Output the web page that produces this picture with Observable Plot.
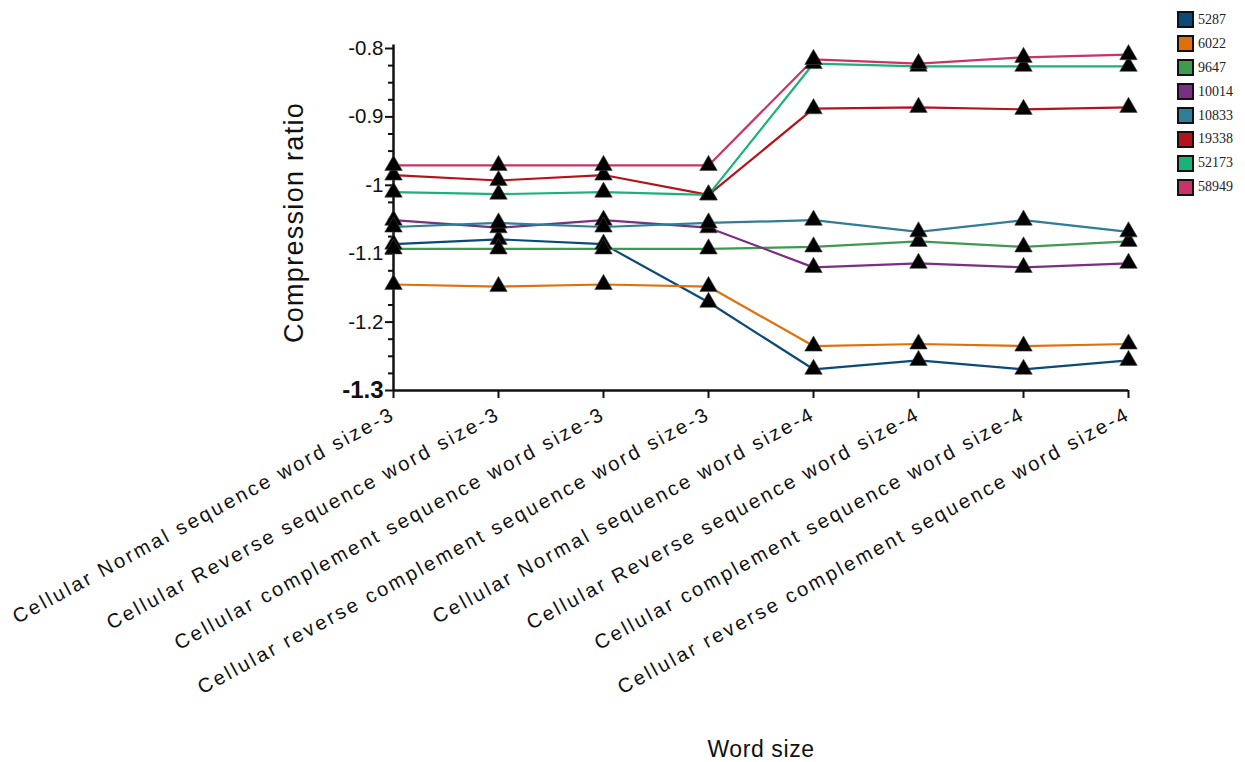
<!DOCTYPE html>
<html><head><meta charset="utf-8">
<script src="https://cdn.jsdelivr.net/npm/d3@7"></script>
<script src="https://cdn.jsdelivr.net/npm/@observablehq/plot@0.6"></script>
<style>
body{margin:0;background:#fff;}
#wrap{position:relative;width:1245px;height:762px;overflow:hidden;}
#legend{position:absolute;left:1177px;top:8px;font-family:"Liberation Serif",serif;font-size:14px;color:#222;}
.item{display:flex;align-items:center;height:23.9px;}
.sw{width:13px;height:13px;border:2px solid #111;margin-right:4px;box-sizing:content-box;}
</style></head>
<body><div id="wrap"><div id="chart"></div><div id="legend"></div></div>
<script>
const categories = [
  "Cellular Normal sequence word size-3",
  "Cellular Reverse sequence word size-3",
  "Cellular complement sequence word size-3",
  "Cellular reverse complement sequence word size-3",
  "Cellular Normal sequence word size-4",
  "Cellular Reverse sequence word size-4",
  "Cellular complement sequence word size-4",
  "Cellular reverse complement sequence word size-4"
];
const seriesNames = ["5287","6022","9647","10014","10833","19338","52173","58949"];
const seriesColors = ["#0b4a78","#e0700a","#3d9a4e","#7b2f83","#2f7d96","#b5121b","#1ab27a","#c73468"];
const v5287  = [-1.086,-1.079,-1.086,-1.171,-1.269,-1.256,-1.269,-1.256];
const v6022  = [-1.145,-1.148,-1.145,-1.148,-1.235,-1.232,-1.235,-1.232];
const v9647  = [-1.093,-1.093,-1.093,-1.093,-1.090,-1.082,-1.090,-1.082];
const v10014 = [-1.051,-1.062,-1.051,-1.062,-1.120,-1.114,-1.120,-1.114];
const v10833 = [-1.061,-1.055,-1.061,-1.055,-1.051,-1.068,-1.051,-1.068];
const v19338 = [-0.985,-0.993,-0.985,-1.014,-0.888,-0.886,-0.889,-0.886];
const v52173 = [-1.010,-1.013,-1.010,-1.014,-0.822,-0.826,-0.826,-0.826];
const v58949 = [-0.971,-0.971,-0.971,-0.971,-0.816,-0.822,-0.813,-0.809];
const yMajorTicks = [-0.8,-0.9,-1,-1.1,-1.2];
const yMajorLabels = ["-0.8","-0.9","-1","-1.1","-1.2"];
const yBottomTick = [-1.3];
const yBottomLabel = ["-1.3"];
const yMinorTicks = [-0.825,-0.85,-0.875,-0.925,-0.95,-0.975,-1.025,-1.05,-1.075,-1.125,-1.15,-1.175,-1.225,-1.25,-1.275];
const yTitle = "Compression ratio";
const xTitle = "Word size";

const allValues = [v5287,v6022,v9647,v10014,v10833,v19338,v52173,v58949];
const data = [];
seriesNames.forEach((s,i)=>categories.forEach((c,j)=>data.push({series:s, cat:c, value:allValues[i][j]})));

const plot = Plot.plot({
  width:1245, height:762,
  marginLeft:393, marginRight:117, marginTop:48, marginBottom:372,
  style:{fontFamily:"Arial, 'Liberation Sans', sans-serif", color:"#111", background:"#fff"},
  x:{type:"point", domain:categories, padding:0},
  y:{domain:[-1.3,-0.8]},
  color:{domain:seriesNames, range:seriesColors},
  marks:[
    Plot.axisY({ticks:yMajorTicks, tickSize:8, tickPadding:2, strokeWidth:2, fontSize:20.5,
      tickFormat:(d)=>yMajorLabels[yMajorTicks.indexOf(d)], label:null}),
    Plot.axisY({ticks:yBottomTick, tickSize:8, tickPadding:2, strokeWidth:2, fontSize:24, fontWeight:"bold",
      tickFormat:(d)=>yBottomLabel[0], label:null}),
    Plot.axisY({ticks:yMinorTicks, tickSize:5, strokeWidth:2, text:null, label:null}),
    Plot.ruleX([categories[0]], {strokeWidth:2.5, y1:-1.3, y2:-0.795}),
    Plot.ruleY([-1.3], {strokeWidth:2.5}),
    Plot.axisX({tickSize:8, strokeWidth:2, tickRotate:-28.5, fontSize:20, tickPadding:14, label:null}),
    Plot.text([yTitle], {frameAnchor:"left", dx:-99, dy:3, rotate:-90, textAnchor:"middle", fontSize:27}),
    Plot.text([xTitle], {frameAnchor:"bottom", dy:366, fontSize:23}),
    Plot.line(data, {x:"cat", y:"value", z:"series", stroke:"series", strokeWidth:2.2}),
    Plot.dot(data, {x:"cat", y:"value", symbol:"triangle", r:6.5, fill:"#000", stroke:"#444", strokeWidth:0.6})
  ]
});
document.getElementById("chart").appendChild(plot);
const svg = d3.select(plot);
svg.selectAll("text").each(function(){
  const t = this.textContent;
  if (categories.includes(t)) this.setAttribute("letter-spacing","2.6");
  else if (t === yTitle) this.setAttribute("letter-spacing","1.3");
  else if (t === xTitle) this.setAttribute("letter-spacing","0.6");
});

const legend = d3.select("#legend");
seriesNames.forEach((s,i)=>{
  const it = legend.append("div").attr("class","item");
  it.append("div").attr("class","sw").style("background",seriesColors[i]);
  it.append("span").text(s);
});
</script>
</body></html>
